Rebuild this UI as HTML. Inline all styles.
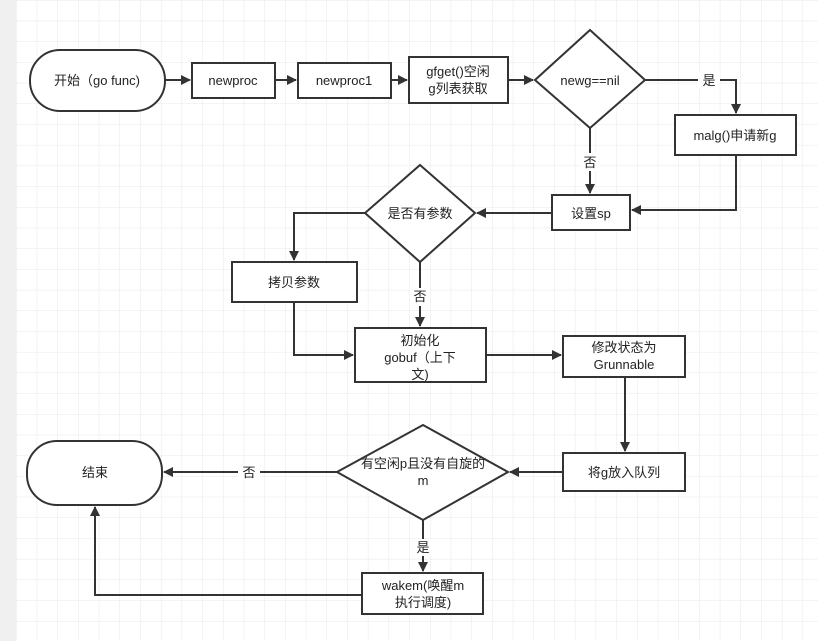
<!DOCTYPE html>
<html><head><meta charset="utf-8"><style>
html,body{margin:0;padding:0;width:818px;height:641px;overflow:hidden;background:#fff}
</style></head><body>
<svg width="818" height="641" xmlns="http://www.w3.org/2000/svg" font-family="Liberation Sans, Noto Sans CJK SC, sans-serif" font-size="13">
<defs>
<pattern id="g" x="16" y="0" width="20.7" height="20.7" patternUnits="userSpaceOnUse">
<path d="M0 0H20.7M0 0V20.7" stroke="#e8e8e8" stroke-width="1" fill="none"/>
</pattern>
<marker id="a" markerWidth="10" markerHeight="10" refX="9" refY="5" orient="auto" markerUnits="userSpaceOnUse">
<path d="M0 0L10 5L0 10z" fill="#333"/>
</marker>
</defs>
<rect width="818" height="641" fill="#fff"/>
<rect x="16" width="802" height="641" fill="url(#g)"/>
<rect width="16" height="641" fill="#f0f0f0"/>
<g stroke="#333" stroke-width="2" fill="none" marker-end="url(#a)">
<path d="M166 80H190"/>
<path d="M276 80H296"/>
<path d="M392 80H407"/>
<path d="M509 80H533"/>
<path d="M645 80H736V113"/>
<path d="M590 128V193"/>
<path d="M736 155V210H632"/>
<path d="M552 213H477"/>
<path d="M365 213H294V260"/>
<path d="M420 262V326"/>
<path d="M294 302V355H353"/>
<path d="M486 355H561"/>
<path d="M625 377V451"/>
<path d="M563 472H510"/>
<path d="M337 472H164"/>
<path d="M423 520V571"/>
<path d="M362 595H95V507"/>
</g>
<g stroke="#333" stroke-width="2" fill="#fff">
<rect x="30" y="50" width="135" height="61" rx="30"/>
<rect x="192" y="63" width="83" height="35"/>
<rect x="298" y="63" width="93" height="35"/>
<rect x="409" y="57" width="99" height="46"/>
<path d="M590 30L645 80L590 128L535 80z"/>
<rect x="675" y="115" width="121" height="40"/>
<rect x="552" y="195" width="78" height="35"/>
<path d="M420 165L475 213L420 262L365 213z"/>
<rect x="232" y="262" width="125" height="40"/>
<rect x="355" y="328" width="131" height="54"/>
<rect x="563" y="336" width="122" height="41"/>
<rect x="563" y="453" width="122" height="38"/>
<path d="M423 425L508 472L423 520L337 472z"/>
<rect x="27" y="441" width="135" height="64" rx="30"/>
<rect x="362" y="573" width="121" height="41"/>
</g>
<g fill="#fff">
<rect x="698" y="72" width="22" height="16"/>
<rect x="580" y="153" width="20" height="18"/>
<rect x="410" y="288" width="20" height="18"/>
<rect x="238" y="464" width="22" height="17"/>
<rect x="413" y="539" width="20" height="17"/>
</g>
<g fill="#222" text-anchor="middle">
<text x="97" y="85">开始（go func)</text>
<text x="233" y="85">newproc</text>
<text x="344" y="85">newproc1</text>
<text x="458" y="76">gfget()空闲</text>
<text x="458" y="93">g列表获取</text>
<text x="590" y="85">newg==nil</text>
<text x="709" y="85">是</text>
<text x="735" y="140">malg()申请新g</text>
<text x="590" y="167">否</text>
<text x="591" y="218">设置sp</text>
<text x="420" y="218">是否有参数</text>
<text x="294" y="287">拷贝参数</text>
<text x="420" y="301">否</text>
<text x="420" y="345">初始化</text>
<text x="420" y="362">gobuf（上下</text>
<text x="420" y="379">文)</text>
<text x="624" y="352">修改状态为</text>
<text x="624" y="369">Grunnable</text>
<text x="624" y="477">将g放入队列</text>
<text x="423" y="468">有空闲p且没有自旋的</text>
<text x="423" y="485">m</text>
<text x="249" y="477">否</text>
<text x="95" y="477">结束</text>
<text x="423" y="552">是</text>
<text x="423" y="590">wakem(唤醒m</text>
<text x="423" y="607">执行调度)</text>
</g>
</svg>
</body></html>
